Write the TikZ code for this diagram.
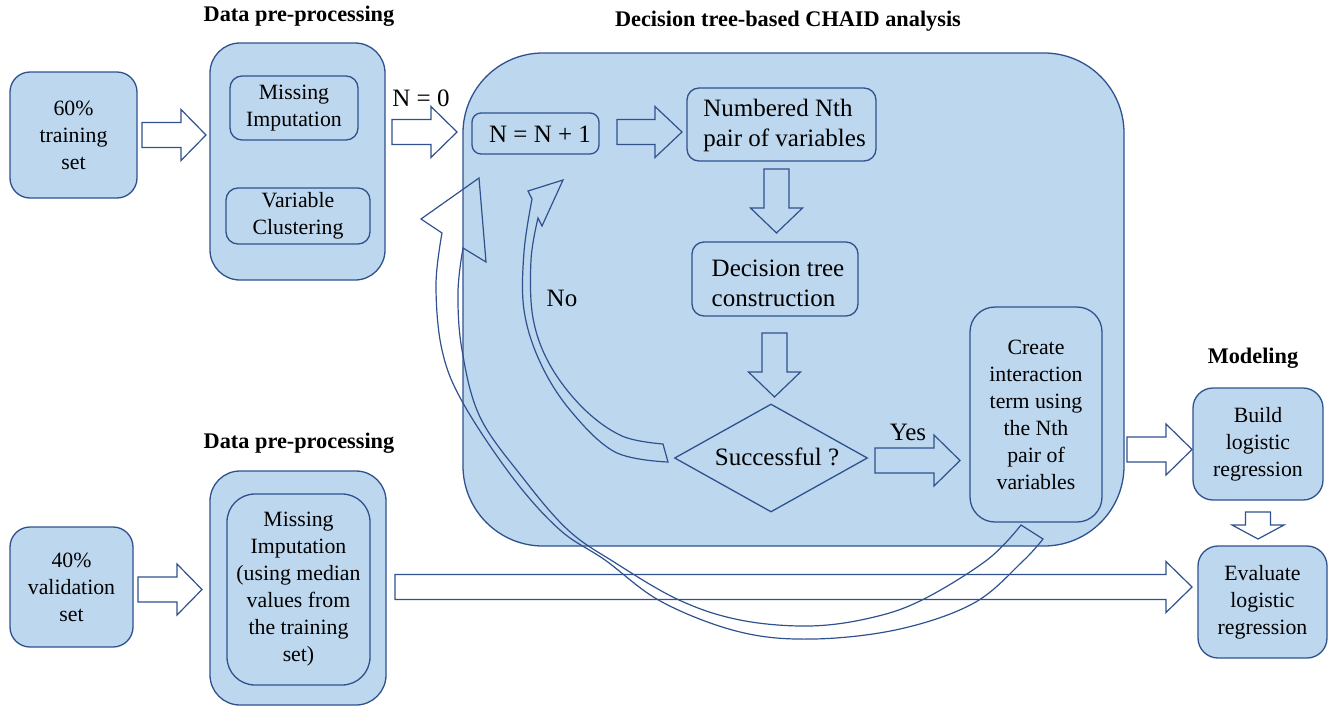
\documentclass[tikz,border=0pt]{standalone}
\usepackage{fontspec}
\setmainfont{Liberation Serif}
\usetikzlibrary{shapes.geometric}
\definecolor{boxfill}{RGB}{189,215,238}
\definecolor{boxline}{RGB}{47,82,143}
\newcommand\mybodyfont{\fontsize{21.8}{27}\selectfont}
\newcommand\mybigfont{\fontsize{25}{30}\selectfont}
\newcommand\mytitlefont{\fontsize{22.3}{26}\selectfont\bfseries}
\newcommand\myRArrow[4]{\draw[blockarr] (#1,#4-12.5) -- (#2,#4-12.5) -- (#2,#4-25.5) -- (#3,#4) -- (#2,#4+25.5) -- (#2,#4+12.5) -- (#1,#4+12.5) -- cycle;}
\newcommand\myDArrow[4]{\draw[blockarr] (#1-12.5,#2) -- (#1+12.5,#2) -- (#1+12.5,#3) -- (#1+26,#3) -- (#1,#4) -- (#1-26,#3) -- (#1-12.5,#3) -- cycle;}
\tikzset{
  box/.style={draw=boxline, fill=boxfill, line width=1.3pt, rounded corners=#1, inner sep=0pt, align=center, font=\mybodyfont},
  box/.default=12pt,
  blockarr/.style={draw=boxline, line width=1.2pt, line join=miter},
  lbl/.style={font=\mybodyfont, inner sep=0pt, align=center},
  biglbl/.style={font=\mybigfont, inner sep=0pt, align=left},
  ttl/.style={font=\mytitlefont, inner sep=0pt},
}
\begin{document}
\begin{tikzpicture}[x=1pt,y=-1pt]
\useasboundingbox (0,0) rectangle (1331,707);

% titles
\node[ttl] (t1) at (299,16) {Data pre-processing};
\node[ttl] (t2) at (788,21) {Decision tree-based CHAID analysis};
\node[ttl] (t3) at (1253,358) {Modeling};
\node[ttl] (t4) at (299,443) {Data pre-processing};

% left column
\node[box=20pt, minimum width=127pt, minimum height=126pt] (train) at (73.5,135) {60\%\\training\\set};
\node[box=20pt, minimum width=123pt, minimum height=120pt] (valid) at (71.5,587) {40\%\\validation\\set};

% pre-processing (training)
\node[box=30pt, minimum width=175pt, minimum height=237pt] (pre1) at (297.5,161.5) {};
\node[box=12pt, minimum width=128pt, minimum height=64pt] (miss1) at (294,108) {Missing\\Imputation};
\node[box=12pt, minimum width=144pt, minimum height=56pt] (var1) at (298,216) {Variable\\Clustering};

% pre-processing (validation)
\node[box=30pt, minimum width=176pt, minimum height=234pt] (pre2) at (298,588) {};
\node[box=28pt, minimum width=143pt, minimum height=191pt] (miss2) at (298.5,589.5) {Missing\\Imputation\\(using median\\values from\\the training\\set)};

% CHAID container
\node[box=80pt, minimum width=661pt, minimum height=493pt] (chaid) at (793.5,299.5) {};
\node[box=9pt, minimum width=127pt, minimum height=41pt] (nn) at (535.5,133.5) {};
\node[biglbl] (nntext) at (540,134) {N = N + 1};
\node[box=12pt, minimum width=189pt, minimum height=73pt] (numb) at (781.5,124.5) {};
\node[biglbl] (numbtext) at (784.5,125) {Numbered Nth\\pair of variables};
\node[box=12pt, minimum width=166pt, minimum height=74pt] (dtc) at (775,279) {};
\node[biglbl] (dtctext) at (778,283) {Decision tree\\construction};
\node[diamond, draw=boxline, line width=1.3pt, minimum width=193pt, minimum height=108pt, inner sep=0pt] (succ) at (771,458) {};
\node[biglbl] (succtext) at (777,457) {Successful ?};
\node[box=25pt, minimum width=132pt, minimum height=215pt] (create) at (1036,414.5) {Create\\interaction\\term using\\the Nth\\pair of\\variables};

% modeling
\node[box=20pt, minimum width=130pt, minimum height=112pt] (build) at (1258,444) {Build\\logistic\\regression};
\node[box=20pt, minimum width=129pt, minimum height=112pt] (eval) at (1262.5,602) {Evaluate\\logistic\\regression};

% straight block arrows
\myRArrow{142}{181}{206}{135}
\myRArrow{392}{431}{457}{132}
\myRArrow{617}{655}{682}{132}
\myRArrow{875}{934}{960}{460.5}
\myRArrow{1127}{1166}{1192}{449.5}
\myRArrow{138}{177}{202}{589.5}
\myRArrow{395}{1166}{1192}{587}
\myDArrow{776.5}{169}{208}{233}
\myDArrow{774.5}{333}{372}{397}
\myDArrow{1258}{512}{525}{539}

% labels
\node[biglbl] (n0) at (421,98) {N = 0};
\node[biglbl] (no) at (562,298) {No};
\node[biglbl] (yes) at (908,432) {Yes};

% "No" curved arrow
\draw[blockarr] (532,199) -- (528,191) -- (563,180) -- (542,226) -- (538,218)
  -- plot[smooth, tension=0.6] coordinates {(538,218) (531,260) (533,318) (550,365) (583,408) (622,436) (663,444)}
  -- (668,462)
  -- plot[smooth, tension=0.6] coordinates {(668,462) (615,452) (570,410) (540,362) (524,310) (524,252) (532,199)}
  -- cycle;

% big curved arrow
\draw[blockarr] (442,233) -- (421,219) -- (479,178) -- (486,262) -- (463,248)
  -- plot[smooth, tension=0.6] coordinates {(463,248) (458,292) (462,350) (480,417) (523,478) (568,530) (614,562) (679,600) (740,620) (809,626) (870,618) (922,600) (987,560) (1021,525)}
  -- (1043,539)
  -- plot[smooth, tension=0.6] coordinates {(1043,539) (1022,562) (974,603) (900,629) (814,639) (740,632) (662,602) (605,560) (560,530) (513,478) (463,403) (442,350) (436,285) (442,233)}
  -- cycle;
\end{tikzpicture}
\end{document}
